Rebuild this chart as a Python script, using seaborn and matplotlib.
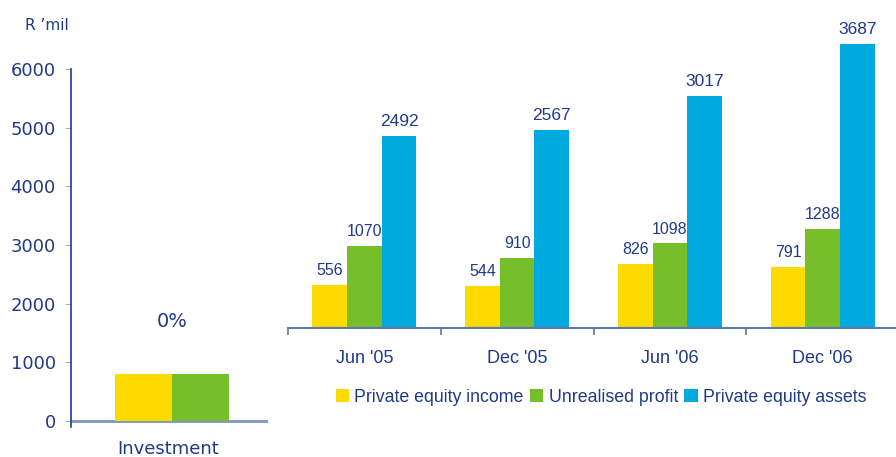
import numpy as np
import pandas as pd
import matplotlib
matplotlib.use("Agg")
from matplotlib import pyplot as plt
import seaborn as sns

# data
periods = ["Jun '05", "Dec '05", "Jun '06", "Dec '06"]
series = ["Private equity income", "Unrealised profit", "Private equity assets"]
pe_income = [556, 544, 826, 791]
unrealised = [1070, 910, 1098, 1288]
pe_assets = [2492, 2567, 3017, 3687]

invest_cat = ["Investment"]
invest_income = [800]
invest_unrealised = [800]
invest_change = "0%"

colors = ["#FDDA00", "#77BE2B", "#00AADF"]
navy = "#1F3A8A"
axis_blue = "#5A78B4"

sns.set_style("white")

df = pd.DataFrame({
    "period": periods * 3,
    "series": np.repeat(series, len(periods)),
    "value": pe_income + unrealised + pe_assets,
})
df_inv = pd.DataFrame({
    "cat": invest_cat * 2,
    "series": series[:2],
    "value": invest_income + invest_unrealised,
})

fig = plt.figure(figsize=(8.96, 4.57), dpi=100)
ax1 = fig.add_axes([71 / 896, 30 / 457, 197 / 896, 358 / 457])
ax2 = fig.add_axes([288 / 896, 129 / 457, 611 / 896, 308 / 457])

# left panel: investment
sns.barplot(data=df_inv, x="cat", y="value", hue="series", hue_order=series[:2],
            palette=colors[:2], width=0.58, saturation=1, linewidth=0,
            errorbar=None, legend=False, ax=ax1)
ax1.set_xlim(-0.513, 0.487)
ax1.set_ylim(-100, 6000)
ax1.set_yticks(range(0, 7000, 1000))
ax1.set_xticks([-0.018], invest_cat)  # label sits a touch left of the bars
ax1.axhline(0, color="#7F95C0", lw=2, zorder=0)
for s in ["top", "right", "bottom"]:
    ax1.spines[s].set_visible(False)
ax1.spines["left"].set_color(navy)
ax1.spines["left"].set_linewidth(1.2)
ax1.tick_params(axis="y", left=True, length=4, color="#A9BC98", labelsize=13,
                labelcolor=navy, pad=7)
ax1.tick_params(axis="x", length=0, labelsize=13, labelcolor=navy, pad=9)
ax1.set_xlabel("")
ax1.set_ylabel("")
ax1.text(0, 1690, invest_change, ha="center", va="center", fontsize=14, color=navy)
fig.text(47 / 896, 1 - 25 / 457, "R \u2019mil", ha="center", va="center",
         fontsize=11, color=navy)

# right panel: half-year figures
sns.barplot(data=df, x="period", y="value", hue="series", hue_order=series,
            palette=colors, width=0.68, saturation=1, linewidth=0,
            errorbar=None, ax=ax2)
ax2.set_ylim(0, 4000)
ax2.set_xlim(-0.5, 3.5)
handles, labels = ax2.get_legend_handles_labels()
ax2.legend_.remove()
for i, cont in enumerate(ax2.containers):
    ax2.bar_label(cont, fontsize=11.5 if i < 2 else 12.5, color=navy, padding=5,
                  family="Liberation Sans")
for s in ["top", "right", "left"]:
    ax2.spines[s].set_visible(False)
ax2.spines["bottom"].set_color(axis_blue)
ax2.spines["bottom"].set_linewidth(1.5)
ax2.set_yticks([])
ax2.set_xticks([-0.5, 0.5, 1.5, 2.5, 3.5], minor=True)
ax2.tick_params(axis="x", which="minor", bottom=True, length=5, color=axis_blue, width=1.2)
ax2.tick_params(axis="x", which="major", length=0, pad=16, labelsize=13, labelcolor=navy)
for t in ax2.get_xticklabels():
    t.set_family("Liberation Sans")
ax2.set_xlabel("")
ax2.set_ylabel("")

fig.legend(handles, labels, loc="center", bbox_to_anchor=(601 / 896, 60 / 457),
           ncol=3, frameon=False, handlelength=0.75, handleheight=0.75,
           handletextpad=0.3, columnspacing=0.35,
           prop={"family": "Liberation Sans", "size": 12.8}, labelcolor=navy)

fig.savefig("out.png", dpi=100)
